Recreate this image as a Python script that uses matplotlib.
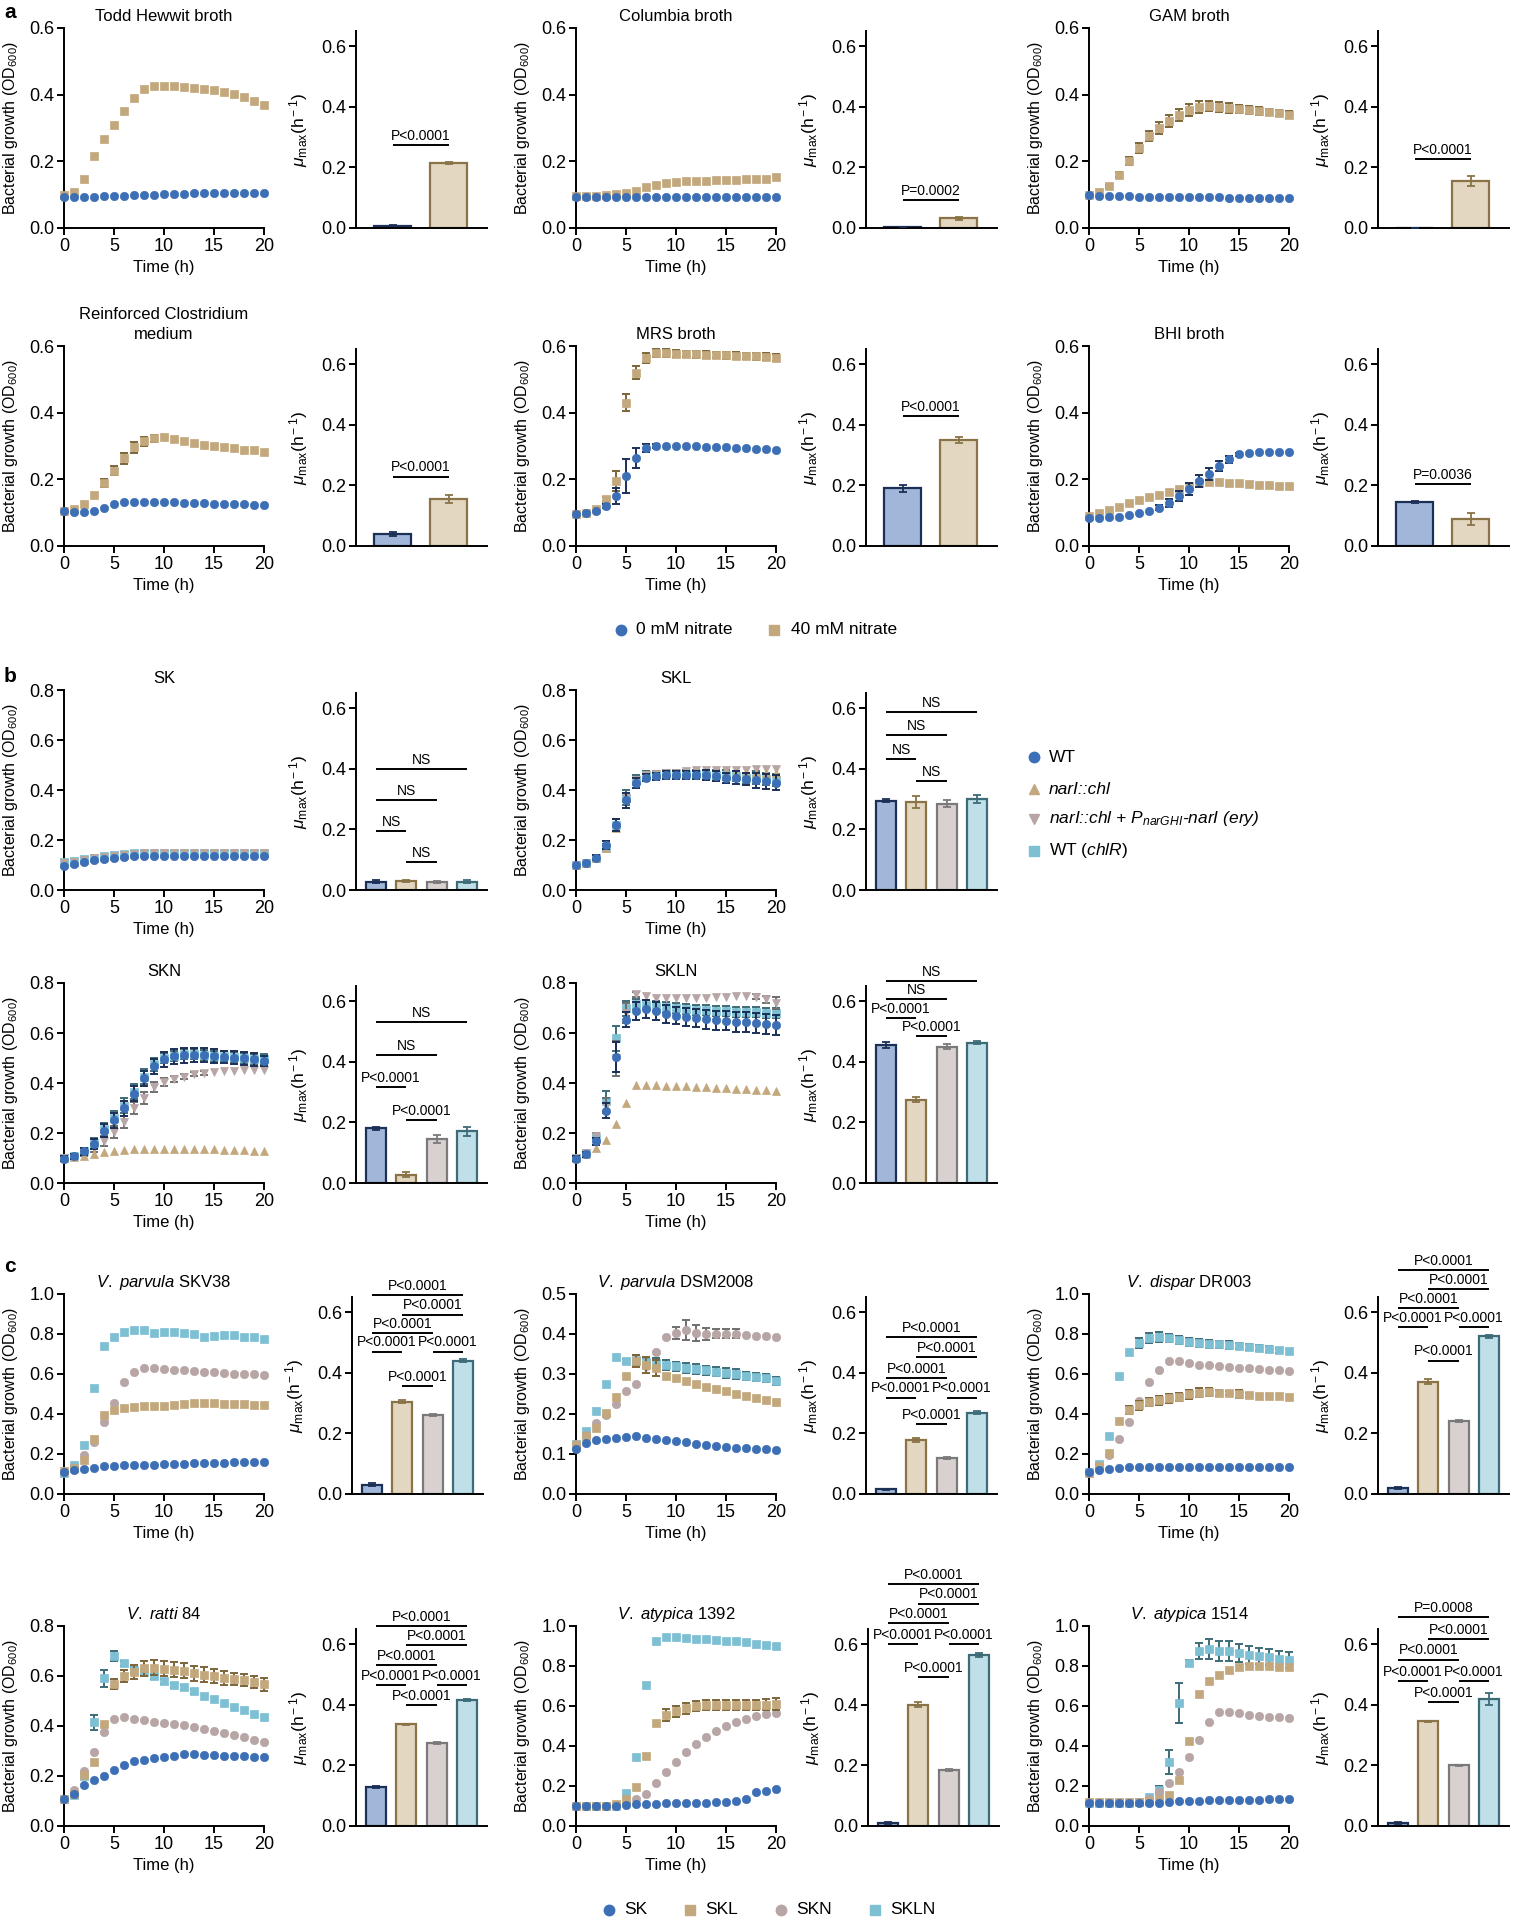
import matplotlib
matplotlib.use("Agg")
import matplotlib.pyplot as plt
import numpy as np

plt.rcParams["font.family"] = ["Liberation Sans", "DejaVu Sans"]
plt.rcParams["mathtext.fontset"] = "custom"
plt.rcParams["mathtext.rm"] = "Liberation Sans"
plt.rcParams["mathtext.it"] = "Liberation Sans:italic"
plt.rcParams["mathtext.bf"] = "Liberation Sans:bold"

# ========= data =========
T = list(range(21))

# --- panel a (0 mM / 40 mM nitrate) ---
TH_0 = [0.092, 0.092, 0.093, 0.094, 0.095, 0.096, 0.097, 0.098, 0.098, 0.100, 0.101, 0.102, 0.103, 0.104, 0.105, 0.106, 0.106, 0.106, 0.106, 0.106, 0.106]
TH_40 = [0.098, 0.108, 0.146, 0.216, 0.266, 0.309, 0.351, 0.390, 0.417, 0.425, 0.427, 0.427, 0.423, 0.420, 0.417, 0.413, 0.408, 0.401, 0.392, 0.382, 0.368]
TH_BAR = [0.008, 0.215]
TH_SD = [0.002, 0.003]

COL_0 = [0.092, 0.092, 0.092, 0.092, 0.092, 0.093, 0.093, 0.093, 0.093, 0.093, 0.093, 0.093, 0.093, 0.093, 0.093, 0.093, 0.092, 0.092, 0.092, 0.092, 0.092]
COL_40 = [0.095, 0.096, 0.097, 0.099, 0.101, 0.105, 0.112, 0.122, 0.130, 0.135, 0.138, 0.140, 0.141, 0.142, 0.143, 0.144, 0.145, 0.146, 0.147, 0.148, 0.152]
COL_BAR = [0.003, 0.032]
COL_SD = [0.001, 0.004]

GAM_0 = [0.100, 0.097, 0.096, 0.095, 0.095, 0.094, 0.094, 0.093, 0.093, 0.093, 0.092, 0.092, 0.092, 0.092, 0.091, 0.091, 0.091, 0.091, 0.090, 0.090, 0.090]
GAM_40 = [0.100, 0.108, 0.125, 0.160, 0.200, 0.240, 0.275, 0.300, 0.320, 0.340, 0.355, 0.362, 0.365, 0.363, 0.360, 0.358, 0.355, 0.352, 0.348, 0.345, 0.340]
GAM_40_ERR = [0, 0, 0.005, 0.008, 0.012, 0.015, 0.015, 0.018, 0.018, 0.018, 0.018, 0.018, 0.015, 0.015, 0.015, 0.012, 0.012, 0.012, 0.010, 0.010, 0.010]
GAM_BAR = [0.001, 0.155]
GAM_SD = [0.0, 0.015]

RCM_0 = [0.104, 0.101, 0.102, 0.104, 0.113, 0.125, 0.131, 0.133, 0.133, 0.133, 0.132, 0.131, 0.130, 0.129, 0.128, 0.127, 0.126, 0.125, 0.125, 0.124, 0.123]
RCM_40 = [0.106, 0.111, 0.125, 0.153, 0.190, 0.226, 0.263, 0.296, 0.314, 0.323, 0.326, 0.321, 0.315, 0.309, 0.304, 0.300, 0.297, 0.293, 0.289, 0.287, 0.282]
RCM_40_ERR = [0, 0, 0, 0, 0.012, 0.014, 0.016, 0.016, 0.014, 0.010, 0, 0, 0, 0, 0, 0, 0, 0, 0, 0, 0]
RCM_BAR = [0.040, 0.155]
RCM_SD = [0.007, 0.012]

MRS_0 = [0.095, 0.100, 0.105, 0.120, 0.150, 0.210, 0.265, 0.295, 0.300, 0.300, 0.300, 0.300, 0.299, 0.298, 0.297, 0.296, 0.295, 0.293, 0.292, 0.290, 0.287]
MRS_0_ERR = [0, 0, 0, 0.005, 0.025, 0.050, 0.030, 0.012, 0.005, 0, 0, 0, 0, 0, 0, 0, 0, 0, 0, 0, 0]
MRS_40 = [0.095, 0.100, 0.110, 0.140, 0.195, 0.430, 0.520, 0.565, 0.578, 0.578, 0.577, 0.576, 0.575, 0.574, 0.573, 0.572, 0.571, 0.570, 0.569, 0.568, 0.565]
MRS_40_ERR = [0, 0, 0, 0.008, 0.030, 0.025, 0.020, 0.015, 0.012, 0.012, 0.010, 0.010, 0.010, 0.010, 0.010, 0.010, 0.010, 0.010, 0.010, 0.010, 0.010]
MRS_BAR = [0.190, 0.350]
MRS_SD = [0.012, 0.010]

BHI_0 = [0.085, 0.085, 0.086, 0.088, 0.092, 0.098, 0.105, 0.115, 0.130, 0.150, 0.170, 0.195, 0.215, 0.240, 0.260, 0.275, 0.280, 0.282, 0.282, 0.282, 0.282]
BHI_0_ERR = [0, 0, 0, 0, 0, 0, 0, 0.008, 0.012, 0.015, 0.018, 0.018, 0.018, 0.015, 0.010, 0.005, 0, 0, 0, 0, 0]
BHI_40 = [0.090, 0.100, 0.108, 0.118, 0.128, 0.138, 0.146, 0.154, 0.162, 0.170, 0.180, 0.190, 0.193, 0.192, 0.190, 0.188, 0.186, 0.184, 0.182, 0.181, 0.180]
BHI_BAR = [0.145, 0.090]
BHI_SD = [0.003, 0.020]

# --- panel b (WT, narI::chl, complemented, WT chlR) ---
SK_WT = [0.098, 0.103, 0.114, 0.119, 0.123, 0.129, 0.131, 0.135, 0.137, 0.137, 0.137, 0.137, 0.137, 0.137, 0.137, 0.137, 0.137, 0.137, 0.137, 0.137, 0.137]
SK_NAR = [0.108, 0.112, 0.120, 0.127, 0.132, 0.137, 0.141, 0.146, 0.148, 0.148, 0.148, 0.148, 0.148, 0.148, 0.148, 0.148, 0.148, 0.148, 0.148, 0.148, 0.148]
SK_COMP = [0.110, 0.114, 0.122, 0.128, 0.133, 0.138, 0.142, 0.146, 0.148, 0.149, 0.149, 0.149, 0.149, 0.149, 0.149, 0.149, 0.149, 0.149, 0.149, 0.149, 0.149]
SK_CHL = [0.112, 0.116, 0.124, 0.130, 0.135, 0.140, 0.144, 0.148, 0.150, 0.150, 0.150, 0.150, 0.150, 0.150, 0.150, 0.150, 0.150, 0.150, 0.150, 0.150, 0.150]
SK_BAR = [0.028, 0.030, 0.027, 0.028]
SK_SD = [0.004, 0.004, 0.003, 0.005]

SKL_WT = [0.100, 0.110, 0.130, 0.180, 0.260, 0.360, 0.430, 0.450, 0.455, 0.460, 0.460, 0.460, 0.460, 0.460, 0.455, 0.450, 0.450, 0.445, 0.440, 0.435, 0.430]
SKL_WT_ERR = [0, 0, 0.010, 0.015, 0.025, 0.030, 0.020, 0.015, 0.015, 0.015, 0.015, 0.015, 0.015, 0.020, 0.020, 0.020, 0.025, 0.025, 0.030, 0.030, 0.030]
SKL_NAR = [0.100, 0.110, 0.130, 0.170, 0.250, 0.370, 0.440, 0.460, 0.465, 0.470, 0.470, 0.470, 0.470, 0.470, 0.470, 0.470, 0.470, 0.470, 0.470, 0.470, 0.470]
SKL_COMP = [0.100, 0.110, 0.130, 0.170, 0.250, 0.370, 0.440, 0.460, 0.465, 0.470, 0.470, 0.475, 0.480, 0.480, 0.480, 0.480, 0.480, 0.480, 0.485, 0.485, 0.485]
SKL_CHL = [0.100, 0.110, 0.130, 0.170, 0.260, 0.370, 0.440, 0.460, 0.460, 0.465, 0.465, 0.465, 0.465, 0.460, 0.460, 0.460, 0.455, 0.450, 0.450, 0.445, 0.440]
SKL_CHL_ERR = [0, 0, 0.010, 0.015, 0.025, 0.030, 0.020, 0.015, 0.015, 0.015, 0.015, 0.015, 0.015, 0.015, 0.020, 0.020, 0.020, 0.020, 0.025, 0.025, 0.025]
SKL_BAR = [0.295, 0.290, 0.285, 0.300]
SKL_SD = [0.005, 0.020, 0.012, 0.012]

SKN_WT = [0.098, 0.107, 0.127, 0.158, 0.210, 0.252, 0.300, 0.358, 0.420, 0.468, 0.496, 0.508, 0.512, 0.512, 0.511, 0.508, 0.505, 0.502, 0.499, 0.495, 0.487]
SKN_WT_ERR = [0.010, 0.010, 0.015, 0.020, 0.025, 0.030, 0.030, 0.030, 0.030, 0.030, 0.030, 0.030, 0.030, 0.028, 0.028, 0.028, 0.025, 0.025, 0.025, 0.025, 0.020]
SKN_NAR = [0.100, 0.105, 0.110, 0.117, 0.123, 0.128, 0.132, 0.135, 0.137, 0.138, 0.138, 0.137, 0.137, 0.136, 0.136, 0.135, 0.134, 0.133, 0.132, 0.130, 0.128]
SKN_COMP = [0.100, 0.105, 0.120, 0.140, 0.170, 0.205, 0.245, 0.300, 0.340, 0.385, 0.405, 0.415, 0.425, 0.435, 0.440, 0.445, 0.448, 0.450, 0.452, 0.452, 0.452]
SKN_COMP_ERR = [0, 0, 0.010, 0.015, 0.020, 0.025, 0.025, 0.025, 0.025, 0.020, 0.015, 0.012, 0.010, 0.008, 0.008, 0, 0, 0, 0, 0, 0]
SKN_CHL = [0.100, 0.108, 0.130, 0.160, 0.215, 0.260, 0.310, 0.365, 0.425, 0.475, 0.500, 0.510, 0.515, 0.515, 0.512, 0.510, 0.507, 0.505, 0.500, 0.498, 0.495]
SKN_CHL_ERR = [0, 0.005, 0.010, 0.020, 0.025, 0.030, 0.030, 0.030, 0.030, 0.025, 0.020, 0.020, 0.020, 0.020, 0.020, 0.020, 0.020, 0.020, 0.020, 0.020, 0.020]
SKN_BAR = [0.180, 0.028, 0.145, 0.170]
SKN_SD = [0.006, 0.008, 0.012, 0.015]

SKLN_WT = [0.098, 0.115, 0.167, 0.290, 0.503, 0.653, 0.689, 0.696, 0.688, 0.677, 0.670, 0.665, 0.660, 0.656, 0.652, 0.649, 0.646, 0.643, 0.641, 0.637, 0.632]
SKLN_WT_ERR = [0.010, 0.010, 0.015, 0.030, 0.060, 0.030, 0.035, 0.035, 0.035, 0.035, 0.035, 0.035, 0.035, 0.038, 0.038, 0.038, 0.040, 0.040, 0.040, 0.040, 0.040]
SKLN_NAR = [0.100, 0.115, 0.140, 0.174, 0.238, 0.322, 0.392, 0.392, 0.391, 0.390, 0.389, 0.387, 0.386, 0.384, 0.382, 0.380, 0.378, 0.376, 0.374, 0.371, 0.367]
SKLN_COMP = [0.100, 0.120, 0.190, 0.310, 0.500, 0.680, 0.756, 0.748, 0.742, 0.740, 0.740, 0.740, 0.741, 0.742, 0.743, 0.745, 0.748, 0.750, 0.745, 0.735, 0.720]
SKLN_COMP_ERR = [0, 0, 0.010, 0.030, 0.070, 0.040, 0.010, 0, 0, 0, 0, 0, 0, 0, 0, 0, 0, 0, 0.010, 0.015, 0.025]
SKLN_CHL = [0.100, 0.120, 0.180, 0.330, 0.580, 0.700, 0.715, 0.712, 0.708, 0.704, 0.700, 0.697, 0.694, 0.692, 0.690, 0.688, 0.686, 0.685, 0.684, 0.682, 0.680]
SKLN_CHL_ERR = [0, 0.005, 0.010, 0.040, 0.050, 0.030, 0.020, 0.020, 0.020, 0.020, 0.020, 0.020, 0.020, 0.020, 0.020, 0.020, 0.020, 0.020, 0.020, 0.020, 0.020]
SKLN_BAR = [0.455, 0.275, 0.450, 0.462]
SKLN_SD = [0.010, 0.008, 0.008, 0.005]

# --- panel c (SK, SKL, SKN, SKLN) ---
V38_SK = [0.108, 0.118, 0.127, 0.132, 0.138, 0.142, 0.143, 0.145, 0.146, 0.147, 0.148, 0.150, 0.152, 0.153, 0.155, 0.156, 0.157, 0.158, 0.158, 0.159, 0.160]
V38_SKL = [0.113, 0.130, 0.168, 0.275, 0.393, 0.420, 0.430, 0.435, 0.438, 0.440, 0.441, 0.443, 0.450, 0.455, 0.455, 0.453, 0.452, 0.450, 0.448, 0.447, 0.445]
V38_SKN = [0.110, 0.132, 0.197, 0.262, 0.358, 0.457, 0.560, 0.610, 0.628, 0.628, 0.627, 0.622, 0.620, 0.615, 0.612, 0.608, 0.605, 0.602, 0.600, 0.598, 0.595]
V38_SKLN = [0.105, 0.147, 0.247, 0.530, 0.738, 0.785, 0.810, 0.818, 0.820, 0.807, 0.812, 0.812, 0.807, 0.802, 0.785, 0.790, 0.797, 0.795, 0.787, 0.783, 0.775]
V38_BAR = [0.030, 0.305, 0.260, 0.440]
V38_SD = [0.005, 0.004, 0.003, 0.004]

D08_SK = [0.113, 0.128, 0.134, 0.138, 0.141, 0.142, 0.144, 0.141, 0.138, 0.136, 0.133, 0.129, 0.126, 0.123, 0.120, 0.118, 0.116, 0.114, 0.113, 0.112, 0.110]
D08_SKL = [0.123, 0.144, 0.165, 0.203, 0.243, 0.296, 0.332, 0.323, 0.315, 0.294, 0.290, 0.282, 0.275, 0.268, 0.263, 0.257, 0.250, 0.244, 0.239, 0.235, 0.231]
D08_SKL_ERR = [0, 0, 0, 0, 0, 0, 0.015, 0.020, 0.020, 0, 0, 0, 0, 0, 0, 0, 0, 0, 0, 0, 0]
D08_SKN = [0.125, 0.148, 0.178, 0.198, 0.226, 0.257, 0.274, 0.319, 0.354, 0.392, 0.403, 0.409, 0.403, 0.401, 0.401, 0.401, 0.401, 0.398, 0.396, 0.395, 0.393]
D08_SKN_ERR = [0, 0, 0, 0, 0, 0, 0, 0, 0, 0, 0.015, 0.025, 0.020, 0.015, 0.012, 0.012, 0.012, 0, 0, 0, 0]
D08_SKLN = [0.125, 0.157, 0.207, 0.275, 0.343, 0.332, 0.335, 0.329, 0.328, 0.323, 0.319, 0.315, 0.313, 0.309, 0.306, 0.303, 0.300, 0.296, 0.293, 0.289, 0.282]
D08_SKLN_ERR = [0, 0, 0, 0, 0, 0.005, 0.012, 0.012, 0.012, 0.012, 0.012, 0.012, 0.012, 0.012, 0.012, 0.012, 0.012, 0.010, 0.010, 0.010, 0.010]
D08_BAR = [0.015, 0.178, 0.120, 0.268]
D08_SD = [0.003, 0.008, 0.003, 0.005]

DR_SK = [0.109, 0.119, 0.125, 0.130, 0.134, 0.136, 0.136, 0.136, 0.135, 0.135, 0.135, 0.134, 0.134, 0.134, 0.134, 0.134, 0.134, 0.134, 0.134, 0.134, 0.134]
DR_SKL = [0.107, 0.140, 0.207, 0.365, 0.421, 0.444, 0.460, 0.468, 0.478, 0.485, 0.499, 0.507, 0.511, 0.505, 0.503, 0.499, 0.493, 0.491, 0.489, 0.489, 0.487]
DR_SKL_ERR = [0, 0, 0, 0, 0.020, 0.022, 0.022, 0.022, 0.022, 0.022, 0.022, 0.022, 0.020, 0.015, 0.010, 0.020, 0.010, 0, 0, 0, 0]
DR_SKN = [0.109, 0.133, 0.197, 0.273, 0.360, 0.464, 0.561, 0.618, 0.663, 0.663, 0.655, 0.647, 0.643, 0.639, 0.635, 0.632, 0.628, 0.624, 0.620, 0.618, 0.616]
DR_SKLN = [0.109, 0.150, 0.292, 0.589, 0.710, 0.756, 0.780, 0.786, 0.780, 0.770, 0.762, 0.756, 0.752, 0.749, 0.745, 0.739, 0.733, 0.729, 0.723, 0.719, 0.713]
DR_SKLN_ERR = [0, 0, 0, 0, 0, 0.025, 0.025, 0.025, 0.022, 0.020, 0.020, 0.020, 0.020, 0.018, 0.018, 0.015, 0.015, 0.015, 0.015, 0.012, 0]
DR_BAR = [0.020, 0.370, 0.240, 0.520]
DR_SD = [0.002, 0.008, 0.003, 0.004]

RA_SK = [0.110, 0.130, 0.166, 0.184, 0.202, 0.224, 0.245, 0.259, 0.265, 0.272, 0.277, 0.281, 0.287, 0.287, 0.286, 0.283, 0.280, 0.280, 0.279, 0.278, 0.276]
RA_SKL = [0.110, 0.130, 0.204, 0.256, 0.409, 0.570, 0.600, 0.615, 0.631, 0.633, 0.630, 0.626, 0.621, 0.611, 0.606, 0.602, 0.592, 0.588, 0.584, 0.576, 0.567]
RA_SKL_ERR = [0, 0, 0, 0, 0, 0.020, 0.025, 0.028, 0.030, 0.030, 0.030, 0.030, 0.030, 0.030, 0.030, 0.028, 0.028, 0.025, 0.025, 0.025, 0.025]
RA_SKN = [0.110, 0.145, 0.221, 0.295, 0.375, 0.430, 0.436, 0.430, 0.424, 0.416, 0.412, 0.409, 0.406, 0.398, 0.390, 0.379, 0.373, 0.366, 0.355, 0.345, 0.338]
RA_SKLN = [0.107, 0.125, 0.200, 0.416, 0.591, 0.681, 0.651, 0.626, 0.615, 0.600, 0.579, 0.564, 0.555, 0.539, 0.521, 0.508, 0.492, 0.478, 0.465, 0.449, 0.436]
RA_SKLN_ERR = [0, 0, 0, 0.030, 0.035, 0.020, 0.010, 0.010, 0.010, 0.010, 0.010, 0.010, 0.010, 0.010, 0, 0, 0, 0, 0, 0, 0]
RA_BAR = [0.130, 0.335, 0.275, 0.415]
RA_SD = [0.003, 0.003, 0.003, 0.003]

A92_SK = [0.100, 0.100, 0.100, 0.100, 0.101, 0.107, 0.110, 0.110, 0.112, 0.113, 0.113, 0.113, 0.115, 0.116, 0.119, 0.121, 0.124, 0.135, 0.169, 0.177, 0.184]
A92_SKL = [0.100, 0.100, 0.100, 0.100, 0.110, 0.135, 0.196, 0.350, 0.513, 0.553, 0.574, 0.589, 0.600, 0.603, 0.603, 0.603, 0.603, 0.604, 0.605, 0.607, 0.609]
A92_SKL_ERR = [0, 0, 0, 0, 0, 0, 0, 0, 0, 0.030, 0.028, 0.028, 0.025, 0.025, 0.025, 0.025, 0.025, 0.025, 0.025, 0.028, 0.030]
A92_SKN = [0.100, 0.100, 0.100, 0.100, 0.100, 0.115, 0.135, 0.159, 0.216, 0.268, 0.321, 0.370, 0.411, 0.443, 0.473, 0.500, 0.518, 0.533, 0.550, 0.559, 0.564]
A92_SKLN = [0.100, 0.100, 0.100, 0.100, 0.100, 0.164, 0.344, 0.707, 0.925, 0.945, 0.943, 0.940, 0.936, 0.934, 0.931, 0.927, 0.923, 0.918, 0.911, 0.905, 0.898]
A92_BAR = [0.010, 0.400, 0.185, 0.565]
A92_SD = [0.003, 0.008, 0.002, 0.006]

A14_SK = [0.113, 0.113, 0.113, 0.113, 0.113, 0.114, 0.115, 0.117, 0.121, 0.127, 0.127, 0.127, 0.129, 0.129, 0.129, 0.131, 0.131, 0.131, 0.133, 0.135, 0.137]
A14_SKL = [0.120, 0.120, 0.120, 0.120, 0.120, 0.121, 0.125, 0.135, 0.154, 0.230, 0.424, 0.658, 0.727, 0.756, 0.779, 0.793, 0.799, 0.799, 0.798, 0.797, 0.793]
A14_SKN = [0.115, 0.115, 0.115, 0.115, 0.116, 0.120, 0.133, 0.172, 0.213, 0.270, 0.344, 0.432, 0.518, 0.570, 0.570, 0.563, 0.555, 0.551, 0.547, 0.543, 0.539]
A14_SKLN = [0.115, 0.115, 0.115, 0.115, 0.116, 0.120, 0.143, 0.182, 0.322, 0.615, 0.814, 0.873, 0.883, 0.877, 0.873, 0.867, 0.857, 0.852, 0.846, 0.836, 0.828]
A14_SKLN_ERR = [0, 0, 0, 0, 0, 0, 0, 0.020, 0.060, 0.100, 0.015, 0.040, 0.050, 0.050, 0.050, 0.045, 0.045, 0.040, 0.040, 0.040, 0.040]
A14_BAR = [0.010, 0.345, 0.200, 0.420]
A14_SD = [0.002, 0.003, 0.002, 0.020]

# comparisons: (bar i, bar j, label); heights given per panel below
PV = "P<0.0001"
C4_P = [(0, 3, PV), (1, 3, PV), (0, 2, PV), (0, 1, PV), (2, 3, PV), (1, 2, PV)]

# ========= style =========
W, H = 1514, 1920
FS = 11.5      # axis labels
TFS = 13       # tick labels
COLORS = {
    "blue": ("#3d6fb6", "#1b2f57", "#a0b7da", "#1b2f57"),
    "tan": ("#c3a87e", "#7d6537", "#e4d7c1", "#8a7447"),
    "mauve": ("#b8a5a5", "#6f6f6f", "#d9d0d0", "#7a7a7a"),
    "cyan": ("#7dbfd3", "#3e6b78", "#bfe0e8", "#3e6b78"),
}
A_MARK = [("o", "blue"), ("s", "tan")]
B_MARK = [("o", "blue"), ("^", "tan"), ("v", "mauve"), ("s", "cyan")]
C_MARK = [("o", "blue"), ("s", "tan"), ("o", "mauve"), ("s", "cyan")]
MS = {"o": 6.0, "s": 5.2, "^": 6.0, "v": 6.0}

fig = plt.figure(figsize=(W / 100, H / 100), dpi=100)


def add_ax(left, bottom, w, h):
    return fig.add_axes([left / W, 1 - bottom / H, w / W, h / H])


def _style(ax):
    for s in ["top", "right"]:
        ax.spines[s].set_visible(False)
    for s in ["left", "bottom"]:
        ax.spines[s].set_linewidth(1.4)
    ax.tick_params(width=1.4, length=5, labelsize=TFS, pad=2)


def growth(left, bottom, series, marks, ymax, ystep, title):
    ax = add_ax(left, bottom, 200, 200)
    _style(ax)
    n = len(series)
    for k in range(n - 1, -1, -1):
        y, err = series[k]
        m, key = marks[k]
        c, ec = COLORS[key][0], COLORS[key][1]
        z = 3 + 2 * (n - k)
        if err is not None:
            idx = [i for i, e in enumerate(err) if e > 0]
            ax.errorbar([T[i] for i in idx], [y[i] for i in idx],
                        yerr=[err[i] for i in idx], fmt="none", ecolor=ec,
                        elinewidth=1.4, capsize=3.2, capthick=1.4,
                        clip_on=False, zorder=z)
        ax.plot(T, y, linestyle="none", marker=m, ms=MS[m], mfc=c, mec=c,
                mew=0.5, clip_on=False, zorder=z + 1)
    ax.set_xlim(0, 20)
    ax.set_ylim(0, ymax)
    ax.set_xticks([0, 5, 10, 15, 20])
    ax.set_yticks(np.arange(0, ymax + 1e-9, ystep))
    ax.yaxis.set_major_formatter(matplotlib.ticker.FormatStrFormatter("%.1f"))
    ax.set_xlabel("Time (h)", fontsize=12)
    ax.xaxis.set_label_coords(0.5, -0.16)
    ax.set_ylabel("Bacterial growth (OD$_{600}$)", fontsize=FS)
    ax.yaxis.set_label_coords(-0.22, 0.5)
    ax.set_title(title, fontsize=12, pad=5, linespacing=1.45)
    return ax


def bars(left, bottom, means, sds, marks, comps):
    ax = add_ax(left, bottom, 131, 197)
    _style(ax)
    n = len(means)
    x = np.arange(n)
    fills = [COLORS[k][2] for _, k in marks]
    edges = [COLORS[k][3] for _, k in marks]
    ax.bar(x, means, width=0.66, color=fills, edgecolor=edges, linewidth=1.6, zorder=2)
    for i in range(n):
        ax.errorbar(x[i], means[i], yerr=sds[i], fmt="none", ecolor=edges[i],
                    elinewidth=1.3, capsize=3, capthick=1.3, zorder=3)
    ax.set_xlim(-0.66, n - 1 + 0.66 if n == 4 else 1.68)
    ax.set_ylim(0, 0.65)
    ax.set_xticks([])
    ax.set_yticks([0, 0.2, 0.4, 0.6])
    ax.yaxis.set_major_formatter(matplotlib.ticker.FormatStrFormatter("%.1f"))
    ax.set_ylabel(r"$\mathit{\mu}_{\rm max}$(h$^{\rm -1}$)", fontsize=12.5)
    ax.yaxis.set_label_coords(-0.35, 0.5)
    for i, j, yv, lab in comps:
        ax.plot([i, j], [yv, yv], color="black", lw=1.4, clip_on=False,
                solid_capstyle="butt", zorder=4)
        ax.text((i + j) / 2, yv + 0.017, lab, ha="center", va="baseline",
                fontsize=10, clip_on=False, zorder=5)
    return ax


def cmp4(heights, labels=None):
    out = []
    for k, ((i, j, lab), h) in enumerate(zip(C4_P, heights)):
        if labels and k in labels:
            lab = labels[k]
        out.append((i, j, h, lab))
    return out


LX = [64, 576, 1089]

# ========= panel a =========
R = 228
growth(LX[0], R, [(TH_0, None), (TH_40, None)], A_MARK, 0.6, 0.2, "Todd Hewwit broth")
bars(356, R, TH_BAR, TH_SD, A_MARK, [(0, 1, 0.275, "P<0.0001")])
growth(LX[1], R, [(COL_0, None), (COL_40, None)], A_MARK, 0.6, 0.2, "Columbia broth")
bars(866, R, COL_BAR, COL_SD, A_MARK, [(0, 1, 0.093, "P=0.0002")])
growth(LX[2], R, [(GAM_0, None), (GAM_40, GAM_40_ERR)], A_MARK, 0.6, 0.2, "GAM broth")
bars(1378, R, GAM_BAR, GAM_SD, A_MARK, [(0, 1, 0.227, "P<0.0001")])

R = 546
growth(LX[0], R, [(RCM_0, None), (RCM_40, RCM_40_ERR)], A_MARK, 0.6, 0.2,
       "Reinforced Clostridium\nmedium")
bars(356, R, RCM_BAR, RCM_SD, A_MARK, [(0, 1, 0.229, "P<0.0001")])
growth(LX[1], R, [(MRS_0, MRS_0_ERR), (MRS_40, MRS_40_ERR)], A_MARK, 0.6, 0.2, "MRS broth")
bars(866, R, MRS_BAR, MRS_SD, A_MARK, [(0, 1, 0.43, "P<0.0001")])
growth(LX[2], R, [(BHI_0, BHI_0_ERR), (BHI_40, None)], A_MARK, 0.6, 0.2, "BHI broth")
bars(1378, R, BHI_BAR, BHI_SD, A_MARK, [(0, 1, 0.205, "P=0.0036")])

# ========= panel b =========
R = 890
growth(LX[0], R, [(SK_WT, None), (SK_NAR, None), (SK_COMP, None), (SK_CHL, None)],
       B_MARK, 0.8, 0.2, "SK")
bars(356, R, SK_BAR, SK_SD, B_MARK,
     [(0, 3, 0.40, "NS"), (0, 2, 0.297, "NS"), (0, 1, 0.194, "NS"), (1, 2, 0.093, "NS")])
growth(LX[1], R, [(SKL_WT, SKL_WT_ERR), (SKL_NAR, None), (SKL_COMP, None), (SKL_CHL, SKL_CHL_ERR)],
       B_MARK, 0.8, 0.2, "SKL")
bars(866, R, SKL_BAR, SKL_SD, B_MARK,
     [(0, 3, 0.587, "NS"), (0, 2, 0.511, "NS"), (0, 1, 0.432, "NS"), (1, 2, 0.36, "NS")])

R = 1183
growth(LX[0], R, [(SKN_WT, SKN_WT_ERR), (SKN_NAR, None), (SKN_COMP, SKN_COMP_ERR), (SKN_CHL, SKN_CHL_ERR)],
       B_MARK, 0.8, 0.2, "SKN")
bars(356, R, SKN_BAR, SKN_SD, B_MARK,
     [(0, 3, 0.531, "NS"), (0, 2, 0.422, "NS"), (0, 1, 0.317, PV), (1, 2, 0.207, PV)])
growth(LX[1], R, [(SKLN_WT, SKLN_WT_ERR), (SKLN_NAR, None), (SKLN_COMP, SKLN_COMP_ERR), (SKLN_CHL, SKLN_CHL_ERR)],
       B_MARK, 0.8, 0.2, "SKLN")
bars(866, R, SKLN_BAR, SKLN_SD, B_MARK,
     [(0, 3, 0.666, "NS"), (0, 2, 0.606, "NS"), (0, 1, 0.545, PV), (1, 2, 0.484, PV)])

# ========= panel c =========
R = 1494
growth(LX[0], R, [(V38_SK, None), (V38_SKL, None), (V38_SKN, None), (V38_SKLN, None)],
       C_MARK, 1.0, 0.2, r"$\mathit{V.\ parvula}$ SKV38")
bars(352, R, V38_BAR, V38_SD, C_MARK, cmp4([0.655, 0.592, 0.53, 0.47, 0.47, 0.355]))
growth(LX[1], R, [(D08_SK, None), (D08_SKL, D08_SKL_ERR), (D08_SKN, D08_SKN_ERR), (D08_SKLN, D08_SKLN_ERR)],
       C_MARK, 0.5, 0.1, r"$\mathit{V.\ parvula}$ DSM2008")
bars(866, R, D08_BAR, D08_SD, C_MARK, cmp4([0.518, 0.451, 0.383, 0.318, 0.318, 0.23]))
growth(LX[2], R, [(DR_SK, None), (DR_SKL, DR_SKL_ERR), (DR_SKN, None), (DR_SKLN, DR_SKLN_ERR)],
       C_MARK, 1.0, 0.2, r"$\mathit{V.\ dispar}$ DR003")
bars(1378, R, DR_BAR, DR_SD, C_MARK, cmp4([0.74, 0.677, 0.613, 0.55, 0.55, 0.44]))

R = 1826
growth(LX[0], R, [(RA_SK, None), (RA_SKL, RA_SKL_ERR), (RA_SKN, None), (RA_SKLN, RA_SKLN_ERR)],
       C_MARK, 0.8, 0.2, r"$\mathit{V.\ ratti}$ 84")
bars(356, R, RA_BAR, RA_SD, C_MARK, cmp4([0.661, 0.597, 0.531, 0.465, 0.465, 0.399]))
growth(LX[1], R, [(A92_SK, None), (A92_SKL, A92_SKL_ERR), (A92_SKN, None), (A92_SKLN, None)],
       C_MARK, 1.0, 0.2, r"$\mathit{V.\ atypica}$ 1392")
bars(868, R, A92_BAR, A92_SD, C_MARK, cmp4([0.798, 0.734, 0.67, 0.6, 0.6, 0.49]))
growth(LX[2], R, [(A14_SK, None), (A14_SKL, None), (A14_SKN, None), (A14_SKLN, A14_SKLN_ERR)],
       C_MARK, 1.0, 0.2, r"$\mathit{V.\ atypica}$ 1514")
bars(1378, R, A14_BAR, A14_SD, C_MARK, cmp4([0.689, 0.618, 0.549, 0.479, 0.479, 0.41], {0: "P=0.0008"}))

# ========= legends & letters =========
ov = fig.add_axes([0, 0, 1, 1], zorder=-1)
ov.set_xlim(0, W)
ov.set_ylim(H, 0)
ov.axis("off")


def leg_item(x, y, m, key, label, dx=15, **kw):
    ov.plot([x], [y], linestyle="none", marker=m, ms=MS[m] + 1.5,
            mfc=COLORS[key][0], mec=COLORS[key][0])
    ov.text(x + dx, y, label, ha="left", va="center", fontsize=12.5, **kw)


leg_item(621, 630, "o", "blue", "0 mM nitrate")
leg_item(774, 630, "s", "tan", "40 mM nitrate", dx=17)

leg_item(1034, 757, "o", "blue", "WT")
leg_item(1034, 789, "^", "tan", "narI::chl", style="italic")
leg_item(1034, 819, "v", "mauve", r"narI::chl + P$_{\mathit{narGHI}}$-narI (ery)", style="italic")
leg_item(1034, 851, "s", "cyan", r"WT ($\mathit{chlR}$)")

leg_item(609, 1910, "o", "blue", "SK")
leg_item(690, 1910, "s", "tan", "SKL")
leg_item(781, 1910, "o", "mauve", "SKN")
leg_item(875, 1910, "s", "cyan", "SKLN")

fig.text(4 / W, 1 - 12 / H, "a", fontsize=15, fontweight="bold", ha="left", va="center")
fig.text(4 / W, 1 - 677 / H, "b", fontsize=15, fontweight="bold", ha="left", va="center")
fig.text(4 / W, 1 - 1267 / H, "c", fontsize=15, fontweight="bold", ha="left", va="center")

fig.savefig("out.png", dpi=100)
